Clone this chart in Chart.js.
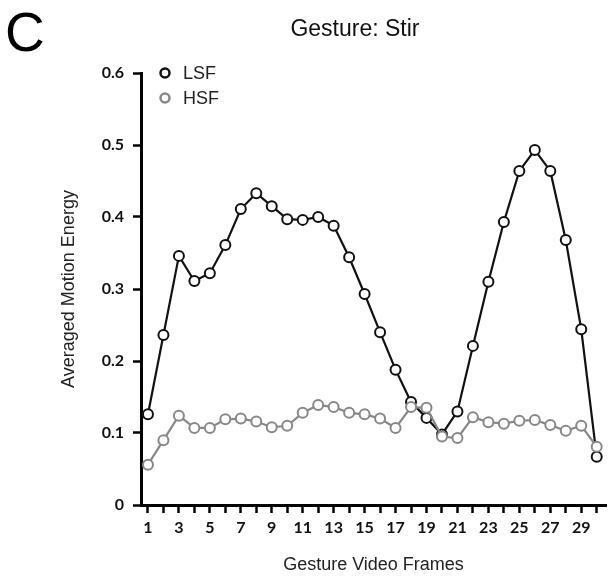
<!DOCTYPE html>
<html>
<head>
<meta charset="utf-8">
<script src="https://cdn.jsdelivr.net/npm/chart.js@4.4.1/dist/chart.umd.min.js"></script>
<style>
  html, body { margin: 0; padding: 0; background: #fff; }
  #wrap { position: relative; width: 613px; height: 577px; }
  #panel { position: absolute; left: 5px; top: 1px; font: 55px 'Liberation Sans', Arial, sans-serif; color: #000; line-height: 62px; }
  #title { position: absolute; left: 141px; width: 428px; top: 15px; text-align: center; font: 23px 'Liberation Sans', Arial, sans-serif; color: #111; }
</style>
</head>
<body>
<div id="wrap">
  <canvas id="stirChart"></canvas>
  <div id="panel">C</div>
  <div id="title">Gesture: Stir</div>
</div>
<script>
'use strict';
// Gesture video frames 1..30
var frames = [1, 2, 3, 4, 5, 6, 7, 8, 9, 10, 11, 12, 13, 14, 15,
              16, 17, 18, 19, 20, 21, 22, 23, 24, 25, 26, 27, 28, 29, 30];
var lsfValues = [0.126, 0.236, 0.346, 0.311, 0.322, 0.361, 0.411, 0.433, 0.415, 0.397,
                 0.396, 0.400, 0.388, 0.344, 0.293, 0.240, 0.188, 0.143, 0.121, 0.098,
                 0.130, 0.221, 0.310, 0.393, 0.464, 0.493, 0.464, 0.368, 0.244, 0.067];
var hsfValues = [0.056, 0.090, 0.124, 0.107, 0.107, 0.119, 0.120, 0.116, 0.108, 0.110,
                 0.128, 0.139, 0.136, 0.128, 0.126, 0.120, 0.107, 0.136, 0.135, 0.095,
                 0.093, 0.122, 0.115, 0.113, 0.117, 0.118, 0.111, 0.103, 0.110, 0.081];
var yTicks = [0, 0.1, 0.2, 0.3, 0.4, 0.5, 0.6];

function toPoints(vals) {
  return frames.map(function(f, i) { return { x: f, y: vals[i] }; });
}

// little legend drawn inside the plot, top-left
var insideLegend = {
  id: 'insideLegend',
  afterDraw: function(chart) {
    var ctx = chart.ctx;
    var x0 = chart.chartArea.left + 24, y0 = chart.chartArea.top + 0;
    ctx.save();
    ctx.font = '18px "Liberation Sans", Arial, sans-serif';
    ctx.textBaseline = 'middle';
    chart.data.datasets.forEach(function(ds, i) {
      var y = y0 + i * 25;
      ctx.beginPath();
      ctx.arc(x0, y, 4.5, 0, Math.PI * 2);
      ctx.fillStyle = '#fff';
      ctx.fill();
      ctx.lineWidth = 2.5;
      ctx.strokeStyle = ds.borderColor;
      ctx.stroke();
      ctx.fillStyle = '#222';
      ctx.fillText(ds.label, x0 + 18, y + 1);
    });
    ctx.restore();
  }
};

var tickFont = { family: 'Lato, "Open Sans", sans-serif', size: 16, weight: 'bold' };

new Chart(document.getElementById('stirChart'), {
  type: 'line',
  data: {
    datasets: [{
      label: 'LSF',
      data: toPoints(lsfValues),
      borderColor: '#111',
      borderWidth: 2.2,
      pointRadius: 5,
      pointBorderWidth: 2,
      pointBackgroundColor: '#fff',
      pointBorderColor: '#111',
      tension: 0,
      order: 1
    }, {
      label: 'HSF',
      data: toPoints(hsfValues),
      borderColor: '#888',
      borderWidth: 2.2,
      pointRadius: 5,
      pointBorderWidth: 2,
      pointBackgroundColor: '#fff',
      pointBorderColor: '#888',
      tension: 0,
      order: 0
    }]
  },
  options: {
    responsive: true, maintainAspectRatio: false,
    animation: false,
    layout: { padding: { left: 54, top: 73, right: 2, bottom: 0 } },
    plugins: { legend: { display: false }, tooltip: { enabled: false }, title: { display: false } },
    scales: {
      x: {
        type: 'linear',
        min: 0.55, max: 30.6,
        afterFit: function(s) { s.height = 72; },
        border: { display: true, color: '#000', width: 3 },
        grid: { drawOnChartArea: false, drawTicks: true, tickLength: 8, tickWidth: 2.5, tickColor: '#000' },
        ticks: {
          stepSize: 1, includeBounds: false, autoSkip: false, maxRotation: 0, padding: 5,
          color: '#111', font: tickFont,
          callback: function(v) { return v % 2 === 1 ? String(v) : ''; }
        },
        title: { display: true, text: 'Gesture Video Frames', color: '#222',
                 font: { family: '"Liberation Sans", Arial, sans-serif', size: 18 }, padding: { top: 0, bottom: 1 } }
      },
      y: {
        min: 0, max: 0.6,
        afterFit: function(s) { s.width = 87; },
        afterBuildTicks: function(s) { s.ticks = yTicks.map(function(v) { return { value: v }; }); },
        border: { display: true, color: '#000', width: 3 },
        grid: { drawOnChartArea: false, drawTicks: true, tickLength: 8, tickWidth: 2.5, tickColor: '#000' },
        ticks: {
          padding: 9, color: '#111', font: tickFont,
          callback: function(v) { return v === 0 ? '0' : v.toFixed(1); }
        },
        title: { display: true, text: 'Averaged Motion Energy', color: '#222',
                 font: { family: '"Liberation Sans", Arial, sans-serif', size: 18 }, padding: { top: 4, bottom: 0 } }
      }
    }
  },
  plugins: [insideLegend]
});
</script>
</body>
</html>
